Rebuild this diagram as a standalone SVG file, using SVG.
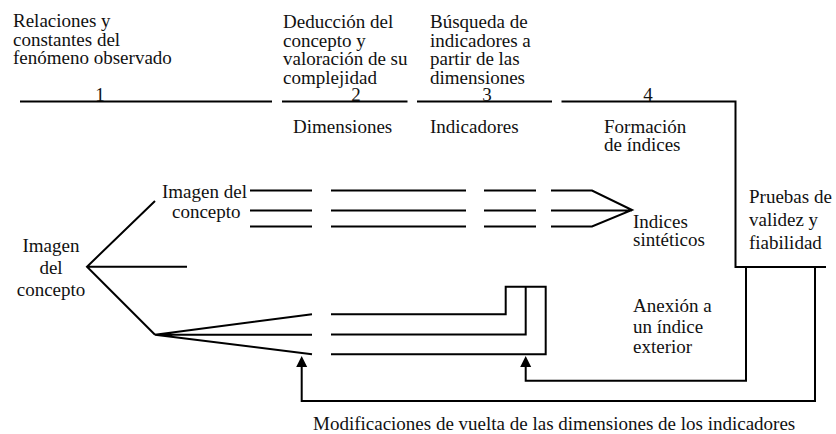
<svg xmlns="http://www.w3.org/2000/svg" width="836" height="434" viewBox="0 0 836 434">
<style>
text{font-family:"Liberation Serif","Tinos","Noto Serif","DejaVu Serif",serif;font-size:19px;fill:#111}
.ln{fill:none;stroke:#000;stroke-width:2}
.mid{text-anchor:middle}
</style>
<defs>
<marker id="ah" markerUnits="userSpaceOnUse" markerWidth="12" markerHeight="12" refX="0" refY="5.5" orient="auto">
<path d="M0,0 L11,5.5 L0,11 z" fill="#000"/>
</marker>
</defs>
<rect width="836" height="434" fill="#fff"/>

<g id="connectors" class="ln">
<path d="M20,101.5 H272"/>
<path d="M282,101.5 H407.5"/>
<path d="M417,101.5 H552"/>
<path d="M561.5,101.5 H735.5 V267 H826"/>
<path d="M187,266.7 H87 M155,201 L87,266.7 L155,334.7"/>
<path d="M250,190.5 H312 M250,210.5 H312 M250,226.5 H312"/>
<path d="M331,190.5 H466 M331,210.5 H466 M331,226.5 H466"/>
<path d="M484,190.5 H536 M484,210.5 H536 M484,226.5 H536"/>
<path d="M551,190.5 H592 L632,210 L592,226.5 H551 M551,210.5 H632"/>
<path d="M312,314.3 L155,334.7 L312,354.3 M155,334.7 H312"/>
<path d="M331,314.3 H505.7 V286.7 H545.7 V354.3 H331 M331,334.5 H525.7 V286.7"/>
<path d="M746,267 V380.7 H525.7 V367" marker-end="url(#ah)"/>
<path d="M815,267 V401 H301.7 V367" marker-end="url(#ah)"/>
</g>

<g id="n-relaciones"><text x="13" y="27">Relaciones y<tspan x="13" dy="18.5">constantes del</tspan><tspan x="13" dy="18.5">fenómeno observado</tspan></text></g>
<g id="n-deduccion"><text x="283" y="28">Deducción del<tspan x="283" dy="18.5">concepto y</tspan><tspan x="283" dy="18.5">valoración de su</tspan><tspan x="283" dy="18.5">complejidad</tspan></text></g>
<g id="n-busqueda"><text x="430" y="28">Búsqueda de<tspan x="430" dy="18.5">indicadores a</tspan><tspan x="430" dy="18.5">partir de las</tspan><tspan x="430" dy="18.5">dimensiones</tspan></text></g>
<g id="n-step1"><text class="mid" x="100" y="101">1</text></g>
<g id="n-step2"><text class="mid" x="356" y="101">2</text></g>
<g id="n-step3"><text class="mid" x="487" y="101">3</text></g>
<g id="n-step4"><text class="mid" x="648" y="101">4</text></g>
<g id="n-dimensiones"><text x="293" y="133">Dimensiones</text></g>
<g id="n-indicadores"><text x="430" y="133">Indicadores</text></g>
<g id="n-formacion"><text x="604" y="133">Formación<tspan x="604" dy="18">de índices</tspan></text></g>
<g id="n-imagen-main"><text class="mid" x="51" y="252">Imagen<tspan x="51" dy="22">del</tspan><tspan x="51" dy="22">concepto</tspan></text></g>
<g id="n-imagen-sub"><text x="162" y="198">Imagen del<tspan x="172" dy="20">concepto</tspan></text></g>
<g id="n-sinteticos"><text x="633" y="228">Indices<tspan x="633" dy="18">sintéticos</tspan></text></g>
<g id="n-pruebas"><text x="749" y="203">Pruebas de<tspan x="749" dy="23">validez y</tspan><tspan x="749" dy="23">fiabilidad</tspan></text></g>
<g id="n-anexion"><text x="633" y="312">Anexión a<tspan x="633" dy="20.5">un índice</tspan><tspan x="633" dy="20.5">exterior</tspan></text></g>
<g id="n-modificaciones"><text x="313" y="430">Modificaciones de vuelta de las dimensiones de los indicadores</text></g>
</svg>
